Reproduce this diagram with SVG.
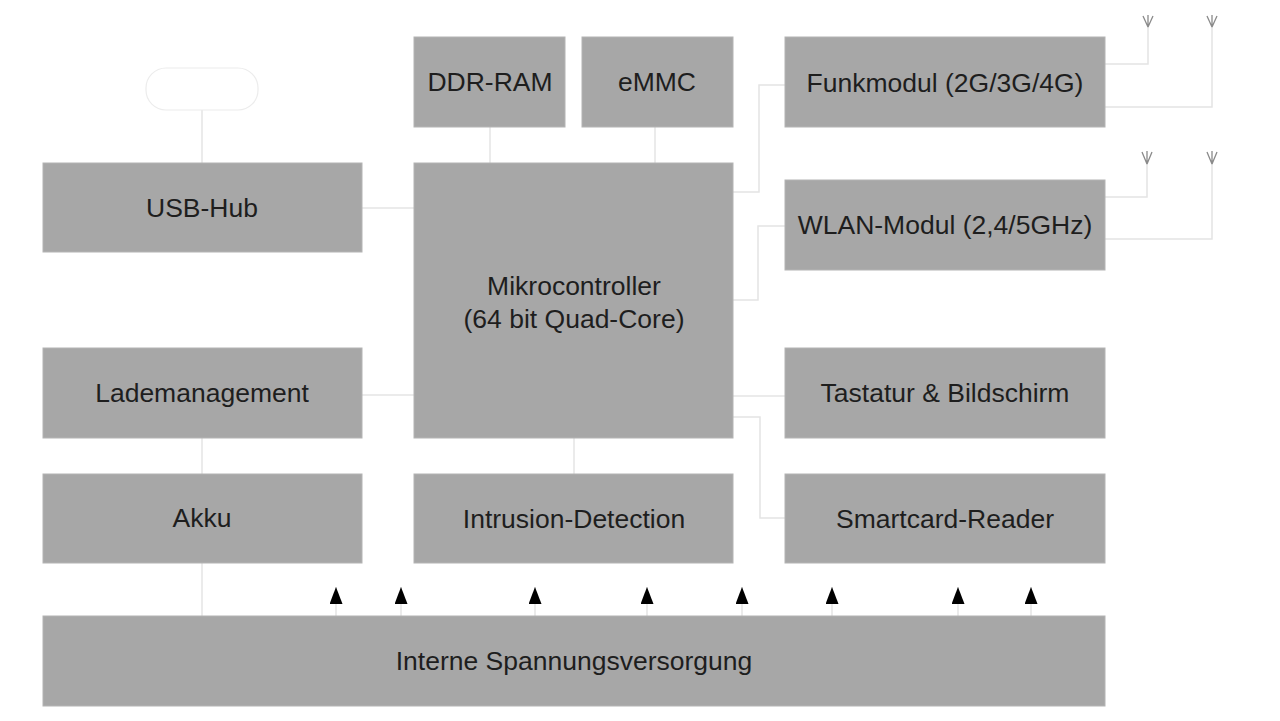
<svg xmlns="http://www.w3.org/2000/svg" width="1280" height="721" viewBox="0 0 1280 721">
<defs>
<style>
.box{fill:#a7a7a7;stroke:#b4b4b4;stroke-width:1}
.lbl{font-family:"Liberation Sans",Arial,sans-serif;font-size:26.5px;fill:#1e1e1e;text-anchor:middle}
.con{fill:none;stroke:#e4e4e4;stroke-width:1.5}
.pwr{fill:none;stroke:#e4e4e4;stroke-width:1.5;marker-end:url(#ah)}
.ant{fill:none;stroke:#8a8a8a;stroke-width:1.3}
</style>
<marker id="ah" viewBox="0 0 17 13" refX="17" refY="6.5" markerWidth="17" markerHeight="13" markerUnits="userSpaceOnUse" orient="auto">
<path d="M17 6.5 L0 13 L0 0 Z" fill="#000"/>
</marker>
</defs>
<rect width="1280" height="721" fill="#fff"/>

<g id="connectors">
<path class="con" d="M202 110 V163"/>
<path class="con" d="M362 208 H414"/>
<path class="con" d="M490 127 V163"/>
<path class="con" d="M655 127 V163"/>
<path class="con" d="M733 192 H759 V85 H785"/>
<path class="con" d="M733 300 H758 V226 H785"/>
<path class="con" d="M733 396 H785"/>
<path class="con" d="M733 417 H760 V518 H785"/>
<path class="con" d="M362 395 H414"/>
<path class="con" d="M202 438 V474"/>
<path class="con" d="M202 563 V616"/>
<path class="con" d="M574 438 V474"/>
<path class="con" d="M1105 64 H1148 V26"/>
<path class="con" d="M1105 107 H1212 V26"/>
<path class="con" d="M1105 197 H1147 V163"/>
<path class="con" d="M1105 239 H1212 V163"/>
<path class="pwr" d="M336 616 V587"/>
<path class="pwr" d="M401 616 V587"/>
<path class="pwr" d="M535 616 V587"/>
<path class="pwr" d="M647 616 V587"/>
<path class="pwr" d="M742 616 V587"/>
<path class="pwr" d="M832 616 V587"/>
<path class="pwr" d="M958 616 V587"/>
<path class="pwr" d="M1031 616 V587"/>
</g>

<g id="antennas">
<path class="ant" d="M1148 27 V15 M1148 27 L1143 16 M1148 27 L1153 16"/>
<path class="ant" d="M1212 27 V15 M1212 27 L1207 16 M1212 27 L1217 16"/>
<path class="ant" d="M1147 164 V151 M1147 164 L1142 152 M1147 164 L1152 152"/>
<path class="ant" d="M1212 164 V151 M1212 164 L1207 152 M1212 164 L1217 152"/>
</g>

<g id="usb-port"><rect x="146" y="68" width="112" height="42" rx="20" fill="#fff" stroke="#ececec" stroke-width="1.2"/></g>

<g id="ddr-ram"><rect class="box" x="414" y="37" width="151" height="90"/><text class="lbl" x="490" y="91">DDR-RAM</text></g>
<g id="emmc"><rect class="box" x="582" y="37" width="151" height="90"/><text class="lbl" x="657" y="91">eMMC</text></g>
<g id="funkmodul"><rect class="box" x="785" y="37" width="320" height="90"/><text class="lbl" x="945" y="92">Funkmodul (2G/3G/4G)</text></g>
<g id="wlan-modul"><rect class="box" x="785" y="180" width="320" height="90"/><text class="lbl" x="945" y="234">WLAN-Modul (2,4/5GHz)</text></g>
<g id="usb-hub"><rect class="box" x="43" y="163" width="319" height="89"/><text class="lbl" x="202" y="217">USB-Hub</text></g>
<g id="mikrocontroller"><rect class="box" x="414" y="163" width="319" height="275"/><text class="lbl" x="574" y="295">Mikrocontroller</text><text class="lbl" x="574" y="328">(64 bit Quad-Core)</text></g>
<g id="lademanagement"><rect class="box" x="43" y="348" width="319" height="90"/><text class="lbl" x="202" y="402">Lademanagement</text></g>
<g id="tastatur"><rect class="box" x="785" y="348" width="320" height="90"/><text class="lbl" x="945" y="402">Tastatur &amp; Bildschirm</text></g>
<g id="akku"><rect class="box" x="43" y="474" width="319" height="89"/><text class="lbl" x="202" y="527">Akku</text></g>
<g id="intrusion-detection"><rect class="box" x="414" y="474" width="319" height="89"/><text class="lbl" x="574" y="528">Intrusion-Detection</text></g>
<g id="smartcard-reader"><rect class="box" x="785" y="474" width="320" height="89"/><text class="lbl" x="945" y="528">Smartcard-Reader</text></g>
<g id="spannungsversorgung"><rect class="box" x="43" y="616" width="1062" height="90"/><text class="lbl" x="574" y="670">Interne Spannungsversorgung</text></g>
</svg>
